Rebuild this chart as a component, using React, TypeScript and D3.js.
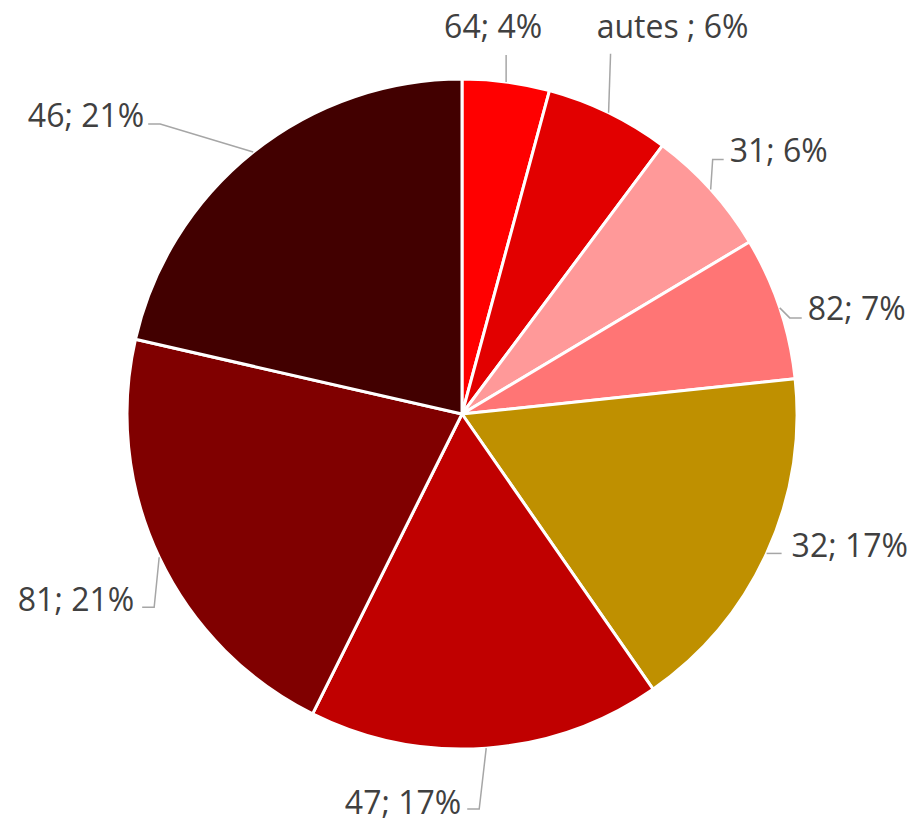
import React, { useEffect, useRef } from 'react';
import * as d3 from 'd3';

// categories (departements) and their share of the total
const categories = ['64', 'autes ', '31', '82', '32', '47', '81', '46'];
const values = [4.2, 6.0, 6.2, 6.9, 17.0, 17.0, 21.2, 21.4];
const colors = ['#FF0000', '#E20000', '#FF9999', '#FF7575', '#BF9000', '#C00000', '#800000', '#420000'];

// label layout: elbow offset from the slice edge, text offset from the elbow
const labelLayout = [
  { ex: 0, ey: -27, tx: -13, ty: -17, anchor: 'middle', tail: 0 },
  { ex: 2, ey: -59, tx: 62, ty: -16, anchor: 'middle', tail: 0 },
  { ex: 2, ey: -30, tx: 17, ty: 2, anchor: 'start', tail: 11 },
  { ex: 10, ey: 10, tx: 18, ty: 2, anchor: 'start', tail: 12 },
  { ex: 3, ey: 0, tx: 22, ty: 4, anchor: 'start', tail: 12 },
  { ex: -7, ey: 61, tx: -18, ty: 5, anchor: 'end', tail: -12 },
  { ex: -5, ey: 50, tx: -20, ty: 4, anchor: 'end', tail: -12 },
  { ex: -93, ey: -28, tx: -16, ty: 3, anchor: 'end', tail: -12 },
];

const W = 915;
const H = 825;
const CX = 462;
const CY = 414;
const R = 335;

export default function App() {
  const ref = useRef<SVGSVGElement>(null);

  useEffect(() => {
    const svg = d3.select(ref.current);
    svg.selectAll('*').remove();

    const total = d3.sum(values);
    const data = categories.map((c, i) => ({ name: c, value: values[i], color: colors[i], layout: labelLayout[i] }));

    const pie = d3.pie<any>().value((d) => d.value).sort(null);
    const arc = d3.arc<any>().innerRadius(0).outerRadius(R);

    const g = svg.append('g').attr('transform', `translate(${CX},${CY})`);

    const arcs = pie(data);

    g.selectAll('path.slice')
      .data(arcs)
      .enter()
      .append('path')
      .attr('class', 'slice')
      .attr('d', arc)
      .attr('fill', (d) => d.data.color)
      .attr('stroke', '#fff')
      .attr('stroke-width', 3)
      .attr('stroke-linejoin', 'round');

    const labels = g.selectAll('g.lbl').data(arcs).enter().append('g').attr('class', 'lbl');

    labels.each(function (d) {
      const mid = (d.startAngle + d.endAngle) / 2;
      const px = R * Math.sin(mid);
      const py = -R * Math.cos(mid);
      const L = d.data.layout;
      const ex = px + L.ex;
      const ey = py + L.ey;
      const sel = d3.select(this);
      const pts: [number, number][] = [[px, py], [ex, ey]];
      if (L.tail) pts.push([ex + L.tail, ey]);
      sel.append('path')
        .attr('d', d3.line()(pts))
        .attr('fill', 'none')
        .attr('stroke', '#A6A6A6')
        .attr('stroke-width', 1.5);
      const pct = Math.round((d.data.value / total) * 100);
      sel.append('text')
        .attr('x', ex + L.tx)
        .attr('y', ey + L.ty)
        .attr('text-anchor', L.anchor)
        .attr('font-family', '"Open Sans", "Liberation Sans", sans-serif')
        .attr('font-size', 32)
        .attr('fill', '#404040')
        .text(`${d.data.name}; ${pct}%`);
    });
  }, []);

  return (
    <div style={{ position: 'fixed', left: 0, top: 0, width: W, height: H, background: '#fff' }}>
      <svg ref={ref} width={W} height={H} />
    </div>
  );
}
